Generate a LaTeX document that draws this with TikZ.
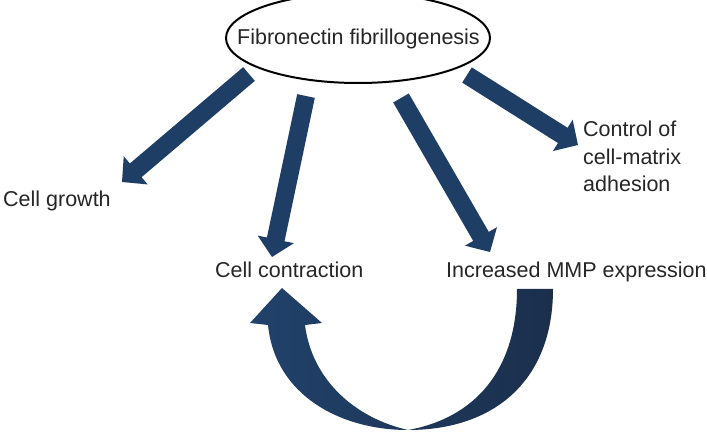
\documentclass[tikz,border=0pt]{standalone}
\usepackage{fontspec}
\setmainfont{Liberation Sans}
\usetikzlibrary{shapes.geometric,calc}
\definecolor{navy}{RGB}{31,62,102}
\definecolor{navyL}{RGB}{33,66,107}
\definecolor{navyD}{RGB}{27,47,76}
\definecolor{txt}{RGB}{38,38,38}
% block arrow from coordinate #1 (tail) to coordinate #2 (tip)
\newcommand{\blockarr}[2]{%
  \coordinate (#1b) at ($(#2)!18pt!(#1)$);
  \fill[arrowfill] ($(#1)!9pt!90:(#2)$) -- ($(#1b)!9pt!90:(#2)$) -- ($(#1b)!18.5pt!90:(#2)$) -- (#2)
    -- ($(#1b)!18.5pt!-90:(#2)$) -- ($(#1b)!9pt!-90:(#2)$) -- ($(#1)!9pt!-90:(#2)$) -- cycle;
}
\begin{document}
\begin{tikzpicture}[x=1pt,y=-1pt,
  lbl/.style={inner sep=0pt, text=txt, font=\fontsize{21.5}{27.5}\selectfont},
  arrowfill/.style={fill=navy},
  hub/.style={draw=black, line width=2pt, ellipse, minimum width=264pt, minimum height=90pt, inner sep=0pt}]
\fill[white] (0,0) rectangle (707,438);
\useasboundingbox (0,0) rectangle (707,438);

% nodes
\node[hub] (fib) at (358,38) {};
\node[lbl, anchor=base] (fibt) at (358.5,45) {Fibronectin fibrillogenesis};
\node[lbl, anchor=base west] (grow) at (3,207) {Cell growth};
\node[lbl, anchor=base west] (contr) at (215,278) {Cell contraction};
\node[lbl, anchor=base west] (mmp) at (446,278) {Increased MMP expression};
\node[lbl, anchor=base west, align=left] (ctrl) at (583,192) {Control of\\cell-matrix\\adhesion};

% straight block arrows
\coordinate (a1t) at (249,74);  \coordinate (a1h) at (122,182);
\coordinate (a2t) at (306,96);  \coordinate (a2h) at (272,257);
\coordinate (a3t) at (401,98);  \coordinate (a3h) at (490,252);
\coordinate (a4t) at (467,75);  \coordinate (a4h) at (578,145);
\blockarr{a1t}{a1h}
\blockarr{a2t}{a2h}
\blockarr{a3t}{a3h}
\blockarr{a4t}{a4h}

% curved feedback arrow from MMP expression back to cell contraction
\coordinate (ctip) at (282,288);
\shade[left color=navyL, right color=navyD]
  (553,289) -- (517,289)
  .. controls (517,370) and (475,418) .. (408,430)
  .. controls (355,418) and (312,380) .. (305,325)
  -- (322,323) -- (ctip) -- (250,323) -- (268,325)
  .. controls (275,395) and (340,430) .. (408,430)
  .. controls (495,430) and (553,380) .. (553,289) -- cycle;
\end{tikzpicture}
\end{document}
